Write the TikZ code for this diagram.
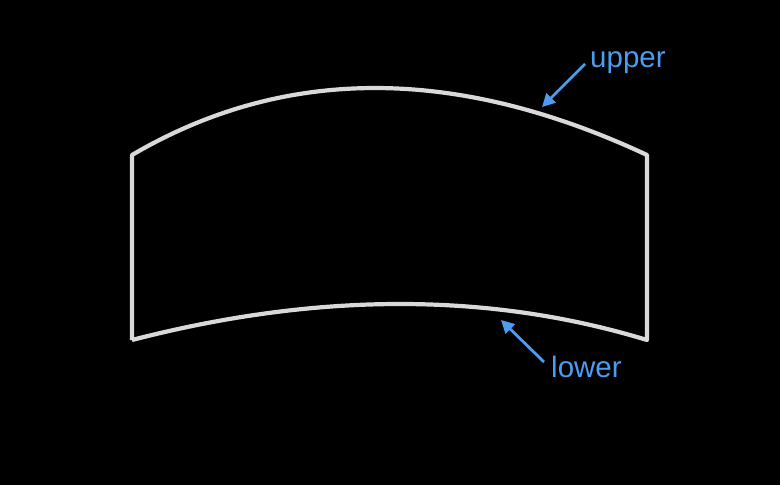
\documentclass[tikz,border=0pt]{standalone}
\usepackage{fontspec}
\setmainfont{Liberation Sans}
\usetikzlibrary{arrows.meta}
\definecolor{edgegray}{HTML}{D9D9D9}
\definecolor{labelblue}{HTML}{4A9DF0}
\begin{document}
\begin{tikzpicture}[x=1pt,y=-1pt,
  shapeline/.style={draw=edgegray,line width=4.2pt,line join=round},
  pointer/.style={draw=labelblue,line width=2.8pt,-{Triangle[length=13pt,width=13pt]}},
  labeltext/.style={text=labelblue,font=\fontsize{29.5}{32}\selectfont,inner sep=0pt,anchor=base west}]
\fill[black] (0,0) rectangle (780,485);
\useasboundingbox (0,0) rectangle (780,485);
\coordinate (tl) at (132,155);
\coordinate (tr) at (647,155);
\coordinate (bl) at (132,340);
\coordinate (br) at (647,340);
\draw[shapeline] (bl) -- (tl) .. controls (284.3,65.7) and (456,65.7) .. (tr) -- (br)
  .. controls (489.3,292) and (317.7,292) .. (bl);
\node[labeltext] (up) at (590,67) {upper};
\node[labeltext] (lo) at (551,377) {lower};
\coordinate (upt) at (585,64);
\coordinate (uph) at (542,107);
\coordinate (lot) at (544,362);
\coordinate (loh) at (501,320);
\draw[pointer] (upt) -- (uph);
\draw[pointer] (lot) -- (loh);
\end{tikzpicture}
\end{document}
